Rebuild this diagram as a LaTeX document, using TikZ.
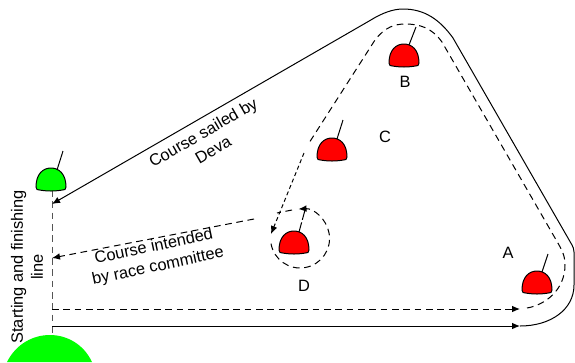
\documentclass[tikz,border=0pt]{standalone}
\usepackage{fontspec}
\setmainfont{Liberation Sans}
\usetikzlibrary{arrows.meta}
\definecolor{BuoyRed}{RGB}{255,0,0}
\definecolor{BuoyGreen}{RGB}{0,255,0}
\definecolor{LineClr}{RGB}{85,85,85}
\tikzset{
  course/.style={line width=0.75pt,black},
  coursedash/.style={course,dash pattern=on 5pt off 3.5pt},
  coursefine/.style={course,dash pattern=on 3pt off 2.2pt},
  tip/.style={-{Latex[length=6pt,width=5pt]}},
  lbl/.style={font=\fontsize{12.3}{15}\selectfont,align=center,inner sep=0pt},
  pics/buoy/.style={code={
    \draw[line width=0.75pt,fill=#1] (-15,8) .. controls (-15,-5) and (-8,-11) .. (0,-11)
      .. controls (8,-11) and (15,-5) .. (15,8) .. controls (15,10) and (15,10) .. (14,10.5)
      .. controls (5,12.5) and (-5,12.5) .. (-14,10.5) .. controls (-15,10) and (-15,10) .. (-15,8) -- cycle;
  }}
}

\begin{document}
\begin{tikzpicture}[x=0.75pt,y=-0.75pt]
\useasboundingbox (0,0) rectangle (575,362);

% starting line
\fill[BuoyGreen] (7,362) .. controls (25,326) and (75,326) .. (92,362) -- cycle;
\draw[LineClr,line width=0.75pt,dash pattern=on 5pt off 3.5pt] (52,190) -- (52,335);

% buoys
\pic at (51,179) {buoy=BuoyGreen};
\draw[line width=0.75pt] (57,170) -- (63,151);
\pic at (332,149) {buoy=BuoyRed};
\draw[line width=0.75pt] (337,139) -- (343,120);
\pic at (404,55) {buoy=BuoyRed};
\draw[line width=0.75pt] (409,45) -- (416,27);
\pic at (537,282) {buoy=BuoyRed};
\draw[line width=0.75pt] (542,272) -- (548,254);
\pic at (294,242) {buoy=BuoyRed};
\draw[line width=0.75pt,dash pattern=on 7.5pt off 2pt] (299,232) -- (305,210);

% course sailed, outer line
\draw[course,tip] (52,326) -- (520,326);
\draw[course,tip] (520,326) .. controls (550,326) and (574,310) .. (574,285)
  -- (574,252) .. controls (574,249) and (573,247) .. (572,245) -- (453,38)
  .. controls (440,20) and (425,9) .. (403,9)
  .. controls (393,9) and (382,13) .. (370,20.5) -- (52,204);

% course sailed, inner line
\draw[coursedash,tip] (52,309) -- (520,309);
\draw[coursedash] (527,308) .. controls (545,305) and (565,290) .. (565,265)
  .. controls (565,255) and (562,250) .. (555,238) -- (442,42)
  .. controls (432,28) and (420,24) .. (405,24)
  .. controls (395,24) and (385,27) .. (375,40) -- (309,143);
\draw[coursefine,tip] (304,153) -- (271,234);
\draw[coursedash,tip] (271,243.6) arc[start angle=170,end angle=-93,radius=29.5];
\draw[coursedash] (292,210) -- (277,213);
\draw[coursedash,tip] (254,219) -- (52,258);

% labels
\node[lbl,rotate=90] (StartLbl) at (27,267) {Starting and finishing\\line};
\node[lbl,rotate=30] (SailedLbl) at (208,141) {Course sailed by\\Deva};
\node[lbl,rotate=12] (IntendedLbl) at (156,257) {Course intended\\by race committee};
\node[lbl] (ALbl) at (508,253) {A};
\node[lbl] (BLbl) at (405,82) {B};
\node[lbl] (CLbl) at (385,137) {C};
\node[lbl] (DLbl) at (304,286) {D};
\end{tikzpicture}
\end{document}
